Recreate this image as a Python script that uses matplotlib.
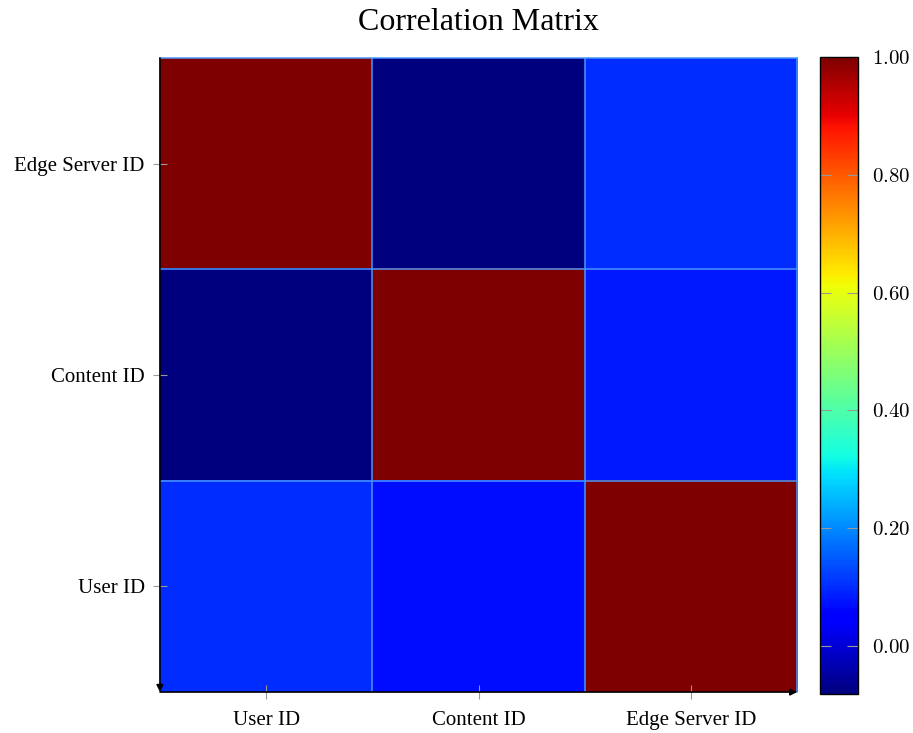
import numpy as np
import matplotlib
matplotlib.use('Agg')
import matplotlib.pyplot as plt

plt.rcParams['font.family'] = ['Liberation Serif', 'DejaVu Serif']
plt.rcParams['mathtext.fontset'] = 'cm'

# row labels from top to bottom, column labels from left to right
row_labels = ['Edge Server ID', 'Content ID', 'User ID']
col_labels = ['User ID', 'Content ID', 'Edge Server ID']

# correlation values as displayed (top row first)
row_top = [1.00, -0.08, 0.10]
row_mid = [-0.08, 1.00, 0.08]
row_bot = [0.10, 0.07, 1.00]

cbar_ticks = [0.0, 0.2, 0.4, 0.6, 0.8, 1.0]
vmin, vmax = -0.082, 1.0

corr = np.array([row_top, row_mid, row_bot])

fig = plt.figure(figsize=(9.13, 7.33), dpi=100)
ax = fig.add_axes([0.1752, 0.0559, 0.698, 0.865])
cax = fig.add_axes([0.898, 0.0532, 0.0416, 0.869])

im = ax.imshow(corr, cmap='jet', vmin=vmin, vmax=vmax, aspect='auto',
               interpolation='nearest')

# light blue cell borders
grid_col = '#4a96ff'
for k in range(1, 3):
    ax.axhline(k - 0.5, color=grid_col, lw=1.1)
    ax.axvline(k - 0.5, color=grid_col, lw=1.1)
ax.spines['top'].set_color(grid_col)
ax.spines['right'].set_color(grid_col)
ax.spines['top'].set_linewidth(1.1)
ax.spines['right'].set_linewidth(1.1)
ax.spines['left'].set_visible(False)
ax.spines['bottom'].set_visible(False)

# axis lines with arrows like pgfplots
ax.annotate('', xy=(1.0, 0), xytext=(0, 0), xycoords='axes fraction',
            arrowprops=dict(arrowstyle='-|>', color='black', lw=1.2,
                            mutation_scale=10, shrinkA=0, shrinkB=0))
ax.annotate('', xy=(0, 0), xytext=(0, 1.0), xycoords='axes fraction',
            arrowprops=dict(arrowstyle='-|>', color='black', lw=1.2,
                            mutation_scale=10, shrinkA=0, shrinkB=0))

ax.set_xticks(range(len(col_labels)))
ax.set_xticklabels(col_labels, fontsize=15)
ax.set_yticks(range(len(row_labels)))
ax.set_yticklabels(row_labels, fontsize=15)
ax.tick_params(axis='x', direction='inout', length=10, width=0.8,
               color='#999999', pad=9)
ax.tick_params(axis='y', direction='inout', length=10, width=0.8,
               color='#999999', pad=6)

cb = fig.colorbar(im, cax=cax, ticks=cbar_ticks)
cb.ax.set_yticklabels(['$%.2f$' % t for t in cbar_ticks], fontsize=15)
cb.ax.tick_params(direction='in', length=8, width=0.8, color='#999999',
                  left=True, right=True, pad=10)
cb.outline.set_linewidth(1.0)

fig.text(0.524, 1 - 23 / 733, 'Correlation Matrix', ha='center', va='center',
         fontsize=23)

fig.savefig('out.png', dpi=100)
